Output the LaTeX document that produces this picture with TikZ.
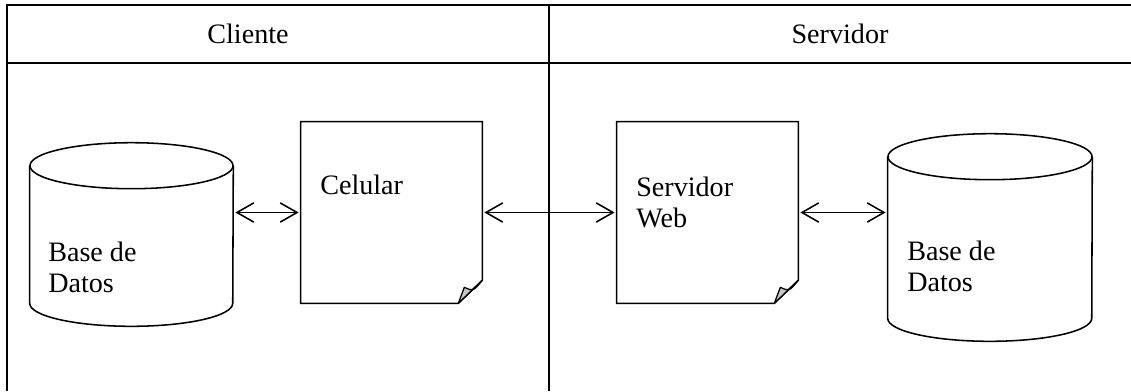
\documentclass[tikz,border=0pt]{standalone}
\usepackage{fontspec}
\setmainfont{Liberation Serif}
\usetikzlibrary{arrows.meta, calc}

\begin{document}
\begin{tikzpicture}[
    x=0.025cm, y=-0.025cm,
    font=\fontsize{20}{22}\selectfont,
    frame/.style={line width=1.3pt, draw=black},
    shapeline/.style={line width=1.1pt, draw=black},
    doc/.style={rectangle, minimum width=4.525cm, minimum height=4.525cm, inner sep=0pt},
    db/.style={rectangle, inner sep=0pt},
    fold/.style={fill=black!22, draw=black, line width=0.9pt, line join=round},
    txt/.style={align=left, inner sep=0pt, anchor=west},
    link/.style={{Straight Barb[length=4.2mm, width=4.8mm]}-{Straight Barb[length=4.2mm, width=4.8mm]}, line width=1.1pt, shorten <=1.5pt, shorten >=1.5pt}
]

\useasboundingbox (0,0) rectangle (1131,391);

% table frame
\draw[frame] (1131,5) -- (7,5) -- (7,391);
\draw[frame] (7,63) -- (1131,63);
\draw[frame] (549,5) -- (549,391);

\node (cliente) at (248,34) {Cliente};
\node (servidor) at (840,34) {Servidor};

% databases
\node[db, minimum width=5.075cm, minimum height=3.425cm] (dbcli) at (131.5,234.5) {};
\draw[shapeline] (dbcli.north west) -- (dbcli.south west) arc[start angle=180, end angle=360, x radius=2.5375cm, y radius=0.575cm] -- (dbcli.north east);
\draw[shapeline] (dbcli.north) ellipse[x radius=2.5375cm, y radius=0.575cm];

\node[db, minimum width=5.1cm, minimum height=4.025cm] (dbsrv) at (990,237.5) {};
\draw[shapeline] (dbsrv.north west) -- (dbsrv.south west) arc[start angle=180, end angle=360, x radius=2.55cm, y radius=0.575cm] -- (dbsrv.north east);
\draw[shapeline] (dbsrv.north) ellipse[x radius=2.55cm, y radius=0.575cm];

% documents
\node[doc] (cel) at (391.5,212.5) {};
\draw[shapeline] (cel.north west) -- (cel.north east) -- ($(cel.south east)+(0,-23)$) -- ($(cel.south east)+(-24,0)$) -- (cel.south west) -- cycle;
\filldraw[fold] ($(cel.south east)+(-24,0)$) -- ($(cel.south east)+(-18,-16)$) .. controls ($(cel.south east)+(-9,-12)$) .. ($(cel.south east)+(0,-23)$) -- cycle;

\node[doc] (web) at (707.5,212.5) {};
\draw[shapeline] (web.north west) -- (web.north east) -- ($(web.south east)+(0,-23)$) -- ($(web.south east)+(-24,0)$) -- (web.south west) -- cycle;
\filldraw[fold] ($(web.south east)+(-24,0)$) -- ($(web.south east)+(-18,-16)$) .. controls ($(web.south east)+(-9,-12)$) .. ($(web.south east)+(0,-23)$) -- cycle;

% texts
\node[txt] (celtxt) at (320,185) {Celular};
\node[txt] (webtxt) at (636,202) {Servidor\\Web};
\node[txt] (dbclitxt) at (48,267) {Base de\\Datos};
\node[txt] (dbsrvtxt) at (907,266) {Base de\\Datos};

% links
\draw[link] (dbcli.east |- cel.west) -- (cel.west);
\draw[link] (cel.east) -- (web.west);
\draw[link] (web.east) -- (web.east -| dbsrv.west);

\end{tikzpicture}
\end{document}
